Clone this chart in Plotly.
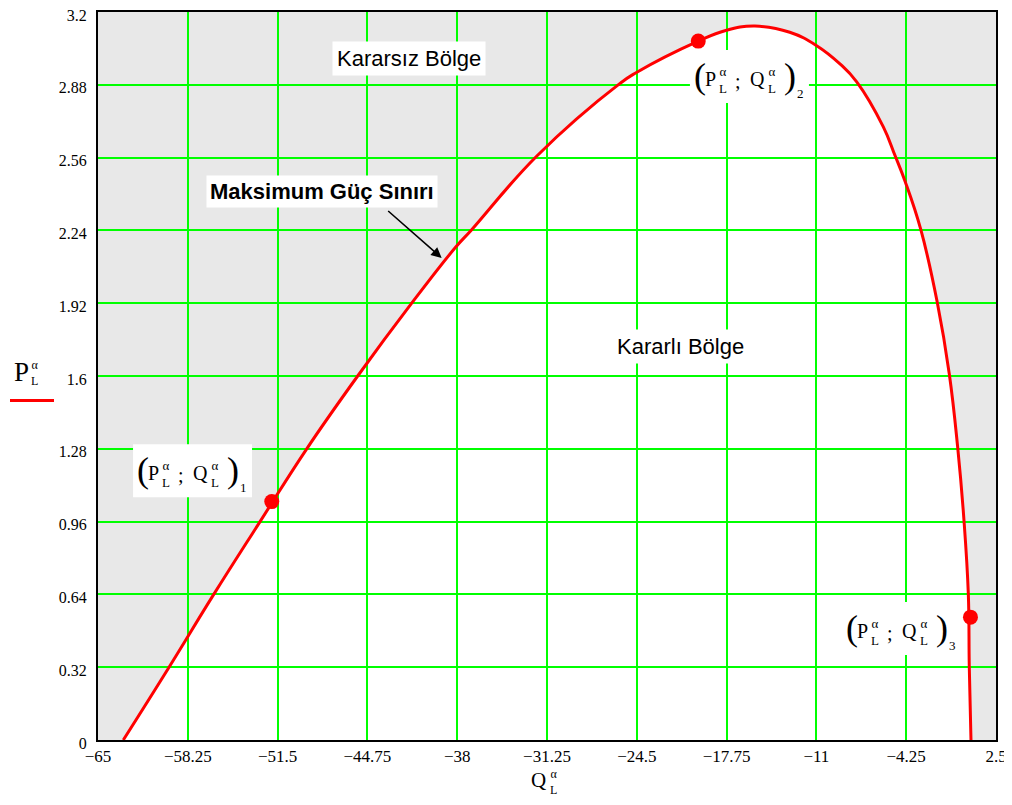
import plotly.graph_objects as go

# ---- data ----
q_curve = [-63.10, -59.66, -56.30, -52.82, -49.31, -45.48, -41.42, -38.09, -36.91, -32.03,
           -25.76, -24.56, -19.88, -17.82, -15.62, -13.00, -10.98, -9.23, -7.97, -5.97,
           -5.09, -4.33, -3.15, -1.92, -1.01, -0.38, 0.09, 0.42, 0.49, 0.62]
p_curve = [0.0, 0.32, 0.64, 0.96, 1.28, 1.60, 1.92, 2.168, 2.243, 2.566,
           2.886, 2.933, 3.072, 3.119, 3.138, 3.111, 3.052, 2.972, 2.893, 2.695,
           2.569, 2.455, 2.243, 1.925, 1.609, 1.286, 0.968, 0.641, 0.326, 0.0]

q_points = [-51.94, -19.88, 0.58]
p_points = [1.048, 3.072, 0.54]
point_subs = ["1", "2", "3"]

x_ticks = [-65, -58.25, -51.5, -44.75, -38, -31.25, -24.5, -17.75, -11, -4.25, 2.5]
x_ticktext = ["\u221265", "\u221258.25", "\u221251.5", "\u221244.75", "\u221238", "\u221231.25",
              "\u221224.5", "\u221217.75", "\u221211", "\u22124.25", "2.5"]
y_ticks = [0, 0.32, 0.64, 0.96, 1.28, 1.6, 1.92, 2.24, 2.56, 2.88, 3.2]
y_ticktext = ["0", "0.32", "0.64", "0.96", "1.28", "1.6", "1.92", "2.24", "2.56", "2.88", "3.2"]

# label anchors (left edge, centre line) for the (P;Q) labels
label_q = [-61.99, -20.13, -8.72]
label_p = [1.172, 2.905, 0.479]

GRID = "#00ff00"
SERIF = "Liberation Serif"
SANS = "Liberation Sans"

fig = go.Figure()

# white "stable" region below the curve (drawn under the grid lines)
path = "M " + " L ".join(f"{q},{p}" for q, p in zip(q_curve, p_curve)) + " Z"
fig.add_shape(type="path", path=path, xref="x", yref="y", layer="below",
              fillcolor="white", line=dict(width=0))

fig.add_trace(go.Scatter(x=q_curve, y=p_curve, mode="lines",
                         line=dict(color="#ff0000", width=3, shape="spline", smoothing=1.2),
                         hoverinfo="skip", showlegend=False))
fig.add_trace(go.Scatter(x=q_points, y=p_points, mode="markers",
                         marker=dict(color="#ff0000", size=15),
                         hoverinfo="skip", showlegend=False))


def ann(x, y, text, size, dx=0, dy=0, xref="x", yref="y", family=SERIF):
    fig.add_annotation(x=x, y=y, xref=xref, yref=yref, text=text, showarrow=False,
                       xanchor="left", yanchor="middle", xshift=dx, yshift=dy, borderpad=0,
                       font=dict(family=family, size=size, color="black"))


def math_label(x, y, sub):
    # white box behind label (between grid and traces)
    fig.add_shape(type="rect", xref="x", yref="y", xsizemode="pixel", ysizemode="pixel",
                  xanchor=x, yanchor=y, x0=-5, x1=114, y0=-24, y1=29,
                  fillcolor="white", line=dict(width=0), layer="between")
    ann(x, y, "(", 36, dx=-2, dy=3)
    ann(x, y, "P", 20, dx=9)
    ann(x, y, "\u03b1<br>L", 13, dx=23, dy=-1)
    ann(x, y, ";", 20, dx=39, dy=-2)
    ann(x, y, "Q", 20, dx=54)
    ann(x, y, "\u03b1<br>L", 13, dx=72, dy=-1)
    ann(x, y, ")", 36, dx=88, dy=3)
    ann(x, y, sub, 13, dx=101, dy=-14)


for qx, py, sub in zip(label_q, label_p, point_subs):
    math_label(qx, py, sub)

# region texts
fig.add_annotation(x=-41.62, y=2.994, xref="x", yref="y", text="Karars\u0131z B\u00f6lge",
                   showarrow=False, bgcolor="white", borderpad=4,
                   font=dict(family=SANS, size=22, color="black"))
fig.add_annotation(x=-21.25, y=1.729, xref="x", yref="y", text="Kararl\u0131 B\u00f6lge",
                   showarrow=False, bgcolor="white", borderpad=4,
                   font=dict(family=SANS, size=22, color="black"))
fig.add_annotation(x=-48.13, y=2.412, xref="x", yref="y", text="<b>Maksimum G\u00fc\u00e7 S\u0131n\u0131r\u0131</b>",
                   showarrow=False, bgcolor="white", borderpad=3,
                   font=dict(family=SANS, size=22, color="black"))
# arrow
fig.add_annotation(x=-39.17, y=2.119, xref="x", yref="y", ax=-43.30, ay=2.331,
                   axref="x", ayref="y", text="", showarrow=True,
                   arrowhead=2, arrowsize=1.3, arrowwidth=1.6, arrowcolor="black")


# axis titles built from pieces (page pixel -> paper coords of the plot area)
def px2paper(px, py):
    return (px - 98) / 898, (740 - py) / 728


xp, yp = px2paper(13, 372)
ann(xp, yp, "P", 27, xref="paper", yref="paper")
xp, yp = px2paper(30, 373)
ann(xp, yp, "\u03b1<br>L", 12, xref="paper", yref="paper")
x0p, y0p = px2paper(10, 400.5)
x1p, _ = px2paper(54, 400.5)
fig.add_shape(type="line", xref="paper", yref="paper", x0=x0p, x1=x1p, y0=y0p, y1=y0p,
              line=dict(color="#ff0000", width=3))

xp, yp = px2paper(530, 780)
ann(xp, yp, "Q", 21, xref="paper", yref="paper")
xp, yp = px2paper(549, 782)
ann(xp, yp, "\u03b1<br>L", 12, xref="paper", yref="paper")

# page has an 8px body margin, so the figure is 8px smaller than the window
fig.update_layout(
    width=1004, height=797,
    margin=dict(l=90, r=16, t=4, b=65, autoexpand=False),
    paper_bgcolor="white", plot_bgcolor="#e8e8e8",
    showlegend=False,
)
fig.update_xaxes(range=[-65, 2.5], tickvals=x_ticks, ticktext=x_ticktext, automargin=False,
                 ticklabeloverflow="allow",
                 showgrid=True, gridcolor=GRID, gridwidth=1.5, zeroline=False,
                 showline=True, linecolor="black", linewidth=2, mirror=True,
                 ticks="", tickfont=dict(family=SERIF, size=17, color="black"))
fig.update_yaxes(range=[0, 3.2], tickvals=y_ticks, ticktext=y_ticktext, automargin=False,
                 ticklabeloverflow="allow", ticklabelshift=3,
                 showgrid=True, gridcolor=GRID, gridwidth=1.5, zeroline=False,
                 showline=True, linecolor="black", linewidth=2, mirror=True,
                 ticks="", ticklabelstandoff=6, tickfont=dict(family=SERIF, size=16, color="black"))

fig.write_html("out.html")
